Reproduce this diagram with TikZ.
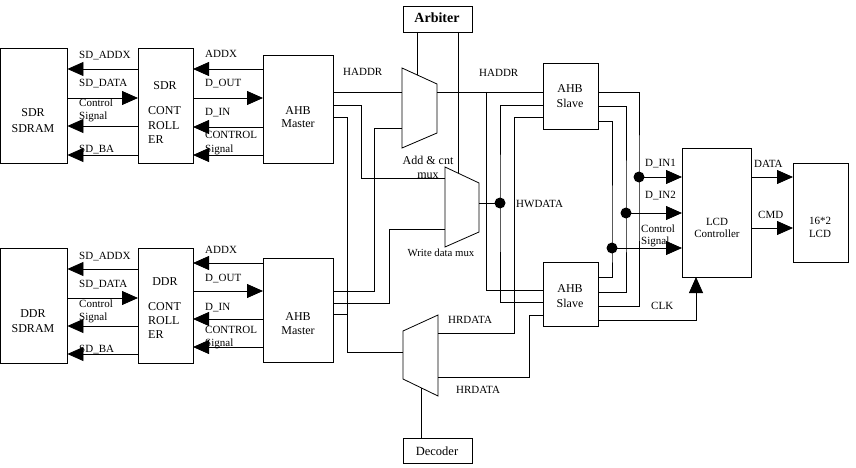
\documentclass[tikz,border=0pt]{standalone}
\usepackage{fontspec}
\setmainfont{Liberation Serif}
\usetikzlibrary{arrows.meta}
\begin{document}
\begin{tikzpicture}[x=1pt,y=-1pt,
  box/.style={draw,line width=0.8pt,inner sep=0pt,outer sep=0pt,anchor=north west},
  wire/.style={line width=0.8pt},
  arr/.style={wire,-{Triangle[length=16pt,width=14pt]}},
  lbl/.style={inner sep=0pt,anchor=base west,font=\fontsize{11}{13}\selectfont},
  txt/.style={inner sep=0pt,anchor=base,font=\fontsize{12}{14}\selectfont},
  txtl/.style={inner sep=0pt,anchor=base west,font=\fontsize{12}{14}\selectfont},
  dot/.style={circle,fill,inner sep=0pt,minimum size=11pt}]
\useasboundingbox (0,0) rectangle (856,468);

% ---------- boxes ----------
\node[box,minimum width=67pt,minimum height=115pt] (sdram) at (0.4,48) {};
\node[box,minimum width=55pt,minimum height=115pt] (sdrc) at (138,48) {};
\node[box,minimum width=70pt,minimum height=108pt] (mtop) at (263,55) {};
\node[box,minimum width=67pt,minimum height=115pt] (ddram) at (0.4,248) {};
\node[box,minimum width=55pt,minimum height=115pt] (ddrc) at (138,248) {};
\node[box,minimum width=70pt,minimum height=104pt] (mbot) at (263,258) {};
\node[box,minimum width=69pt,minimum height=26pt] (arb) at (403,6) {};
\node[box,minimum width=69pt,minimum height=25pt] (dec) at (403,438) {};
\node[box,minimum width=55pt,minimum height=66pt] (stop) at (543,63) {};
\node[box,minimum width=55pt,minimum height=64pt] (sbot) at (543,262) {};
\node[box,minimum width=69pt,minimum height=129pt] (lcdc) at (682,148) {};
\node[box,minimum width=55pt,minimum height=99pt] (lcd) at (793,163) {};

% ---------- box texts ----------
\node[txt] (t1) at (33,117) {SDR};
\node[txt] (t2) at (33,132) {SDRAM};
\node[txt] (t3) at (33,317) {DDR};
\node[txt] (t4) at (33,332) {SDRAM};
\node[txt] (t5) at (165,90) {SDR};
\node[txtl] (t6) at (148,115) {CONT};
\node[txtl] (t7) at (148,129) {ROLL};
\node[txtl] (t8) at (148,143) {ER};
\node[txt] (t9) at (165,285) {DDR};
\node[txtl] (t10) at (148,310) {CONT};
\node[txtl] (t11) at (148,324) {ROLL};
\node[txtl] (t12) at (148,338) {ER};
\node[txt] (t13) at (298,114) {AHB};
\node[txt] (t14) at (298,128) {Master};
\node[txt] (t15) at (298,320) {AHB};
\node[txt] (t16) at (298,334) {Master};
\node[txt,font=\fontsize{14}{16}\selectfont\bfseries] (t17) at (437,23) {Arbiter};
\node[txt,font=\fontsize{12.5}{14}\selectfont] (t18) at (437,455) {Decoder};
\node[txt] (t19) at (570,93) {AHB};
\node[txt] (t20) at (570,108) {Slave};
\node[txt] (t21) at (570,292) {AHB};
\node[txt] (t22) at (570,307) {Slave};
\node[txt,font=\fontsize{11}{13}\selectfont] (t23) at (717,225) {LCD};
\node[txt,font=\fontsize{11}{13}\selectfont] (t24) at (717,237) {Controller};
\node[txt,font=\fontsize{11}{13}\selectfont] (t25) at (820,224) {16*2};
\node[txt,font=\fontsize{11}{13}\selectfont] (t26) at (820,237) {LCD};

% ---------- muxes ----------
\coordinate (m1a) at (402,68); \coordinate (m1b) at (437,84);
\coordinate (m1c) at (437,133); \coordinate (m1d) at (402,148);
\draw[wire] (m1a) -- (m1b) -- (m1c) -- (m1d) -- cycle;
\coordinate (m1in1) at (402,92); \coordinate (m1in2) at (402,128);
\coordinate (m1out) at (437,92); \coordinate (m1sel) at (417,75);

\coordinate (m2a) at (445,167); \coordinate (m2b) at (479,183);
\coordinate (m2c) at (479,232); \coordinate (m2d) at (445,247);
\draw[wire] (m2a) -- (m2b) -- (m2c) -- (m2d) -- cycle;
\coordinate (m2in1) at (445,178); \coordinate (m2in2) at (445,229);
\coordinate (m2out) at (479,203); \coordinate (m2sel) at (458,173);

\coordinate (m3a) at (403,331); \coordinate (m3b) at (438,315);
\coordinate (m3c) at (438,396); \coordinate (m3d) at (403,379);
\draw[wire] (m3a) -- (m3b) -- (m3c) -- (m3d) -- cycle;
\coordinate (m3out) at (403,352); \coordinate (m3in1) at (438,333);
\coordinate (m3in2) at (438,377); \coordinate (m3sel) at (421,388);

% ---------- SDR side arrows ----------
\draw[arr] (sdrc.west |- 0,69) -- (sdram.east |- 0,69);
\draw[arr] (sdram.east |- 0,98) -- (sdrc.west |- 0,98);
\draw[arr] (sdrc.west |- 0,126) -- (sdram.east |- 0,126);
\draw[arr] (sdrc.west |- 0,155) -- (sdram.east |- 0,155);
\draw[arr] (mtop.west |- 0,69) -- (sdrc.east |- 0,69);
\draw[arr] (sdrc.east |- 0,98) -- (mtop.west |- 0,98);
\draw[arr] (mtop.west |- 0,127) -- (sdrc.east |- 0,127);
\draw[arr] (mtop.west |- 0,155) -- (sdrc.east |- 0,155);
% ---------- DDR side arrows ----------
\draw[arr] (ddrc.west |- 0,269) -- (ddram.east |- 0,269);
\draw[arr] (ddram.east |- 0,298) -- (ddrc.west |- 0,298);
\draw[arr] (ddrc.west |- 0,326) -- (ddram.east |- 0,326);
\draw[arr] (ddrc.west |- 0,354) -- (ddram.east |- 0,354);
\draw[arr] (mbot.west |- 0,263) -- (ddrc.east |- 0,263);
\draw[arr] (ddrc.east |- 0,291) -- (mbot.west |- 0,291);
\draw[arr] (mbot.west |- 0,319) -- (ddrc.east |- 0,319);
\draw[arr] (mbot.west |- 0,347) -- (ddrc.east |- 0,347);

% ---------- labels left ----------
\node[lbl] (a1) at (79,59) {SD\_ADDX};
\node[lbl] (a2) at (79,87) {SD\_DATA};
\node[lbl] (a3) at (79,107) {Control};
\node[lbl] (a4) at (79,120) {Signal};
\node[lbl] (a5) at (79,153) {SD\_BA};
\node[lbl] (a6) at (205,58) {ADDX};
\node[lbl] (a7) at (205,87) {D\_OUT};
\node[lbl] (a8) at (205,116) {D\_IN};
\node[lbl] (a9) at (205,139) {CONTROL};
\node[lbl] (a10) at (205,152) {Signal};
\node[lbl] (b1) at (79,259) {SD\_ADDX};
\node[lbl] (b2) at (79,287) {SD\_DATA};
\node[lbl] (b3) at (79,307) {Control};
\node[lbl] (b4) at (79,320) {Signal};
\node[lbl] (b5) at (79,352) {SD\_BA};
\node[lbl] (b6) at (205,253) {ADDX};
\node[lbl] (b7) at (205,281) {D\_OUT};
\node[lbl] (b8) at (205,310) {D\_IN};
\node[lbl] (b9) at (205,333) {CONTROL};
\node[lbl] (b10) at (205,346) {Signal};

% ---------- middle wiring ----------
\coordinate (j1) at (486,92);
\coordinate (k1) at (514,333);
\coordinate (k2) at (529,377);
\coordinate (k3) at (361,178);
\coordinate (k4) at (347,352);
\coordinate (k5) at (374,128);
\coordinate (k6) at (389,229);
\node[dot] (dHW) at (500,203) {};

\draw[wire] (mtop.east |- 0,92) -- (m1in1);
\draw[wire] (m1out) -- (stop.west |- 0,92);
\draw[wire] (j1) |- (sbot.west |- 0,290);
\draw[wire] (mtop.east |- 0,105) -| (k3) -- (m2in1);
\draw[wire] (mtop.east |- 0,117) -| (k4) -- (m3out);
\draw[wire] (mbot.east |- 0,314) -- (k4 |- 0,314);
\draw[wire] (mbot.east |- 0,291) -| (k5) -- (m1in2);
\draw[wire] (mbot.east |- 0,303) -| (k6) -- (m2in2);
\draw[wire] (arb.south -| m1sel) -- (m1sel);
\draw[wire] (arb.south -| m2sel) -- (m2sel);
\draw[wire] (m3sel) -- (dec.north -| m3sel);
\draw[wire] (m2out) -- (dHW.center);
\draw[wire] (stop.west |- 0,105) -| (dHW.center) |- (sbot.west |- 0,302);
\draw[wire] (stop.west |- 0,117) -| (k1) -- (m3in1);
\draw[wire] (sbot.west |- 0,315) -| (k2) -- (m3in2);

\node[lbl] (c1) at (343,76) {HADDR};
\node[lbl] (c2) at (479,77) {HADDR};
\node[lbl] (c3) at (516,207) {HWDATA};
\node[lbl] (c4) at (448,323) {HRDATA};
\node[lbl] (c5) at (456,393) {HRDATA};
\node[txt] (c6) at (428,164) {Add \& cnt};
\node[txt] (c7) at (428,178) {mux};
\node[txt,font=\fontsize{10.8}{13}\selectfont] (c8) at (441,256) {Write data mux};

% ---------- right wiring ----------
\node[dot] (dIN1) at (639,177) {};
\node[dot] (dIN2) at (626,213) {};
\node[dot] (dCS) at (612,248) {};
\draw[wire] (stop.east |- 0,92) -| (dIN1.center) |- (sbot.east |- 0,306);
\draw[wire] (stop.east |- 0,106) -| (dIN2.center) |- (sbot.east |- 0,292);
\draw[wire] (stop.east |- 0,121) -| (dCS.center) |- (sbot.east |- 0,277);
\draw[arr] (dIN1.center) -- (lcdc.west |- dIN1);
\draw[arr] (dIN2.center) -- (lcdc.west |- dIN2);
\draw[arr] (dCS.center) -- (lcdc.west |- dCS);
\draw[arr] (sbot.east |- 0,320) -| (lcdc.south -| 696,0);
\draw[arr] (lcdc.east |- 0,177) -- (lcd.west |- 0,177);
\draw[arr] (lcdc.east |- 0,228) -- (lcd.west |- 0,228);

\node[lbl] (e1) at (645,166) {D\_IN1};
\node[lbl] (e2) at (645,198) {D\_IN2};
\node[lbl] (e3) at (641,232) {Control};
\node[lbl] (e4) at (641,244) {Signal};
\node[lbl] (e5) at (651,309) {CLK};
\node[lbl] (e6) at (754,167) {DATA};
\node[lbl] (e7) at (758,218) {CMD};
\end{tikzpicture}
\end{document}
